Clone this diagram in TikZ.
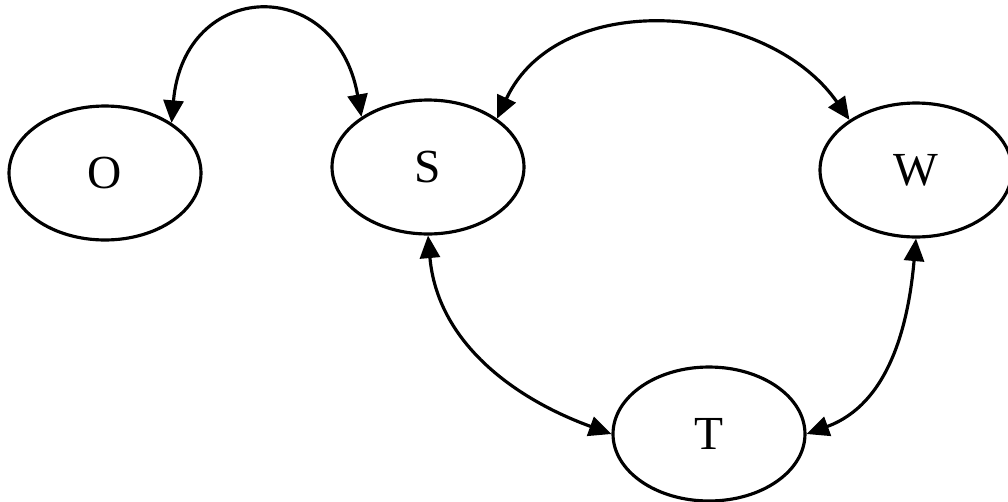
\documentclass[tikz,border=0pt]{standalone}
\usepackage{fontspec}
\setmainfont{Liberation Serif}
\usetikzlibrary{arrows.meta,shapes.geometric}

\begin{document}
\begin{tikzpicture}[
      x=0.02cm, y=0.02cm,
      every node/.style={font=\fontsize{27}{27}\selectfont},
      state/.style={draw, ellipse, line width=1.8pt, minimum width=3.84cm,
                    minimum height=2.68cm, inner sep=0pt},
      link/.style={line width=1.8pt,
                   {Triangle[length=0.45cm,width=0.4cm]}-{Triangle[length=0.45cm,width=0.4cm]}},
    ]
    \useasboundingbox (0,0) rectangle (1008,-501);

    % --- states ---
    \node[state] (O) at (105,-173) {O};
    \node[state] (S) at (428,-167) {S};
    \node[state] (W) at (916,-170) {W};
    \node[state] (T) at (709,-434) {T};

    % --- links ---
    \draw[link] (O.37) to[out=85, in=100, looseness=1.95] (S.143);
    \draw[link] (S.35) to[out=65, in=125, looseness=1.05] (W.143);
    \draw[link] (S.270) to[out=-85, in=160] (T.180);
    \draw[link] (W.270) to[out=-95, in=20] (T.0);
  \end{tikzpicture}
\end{document}
